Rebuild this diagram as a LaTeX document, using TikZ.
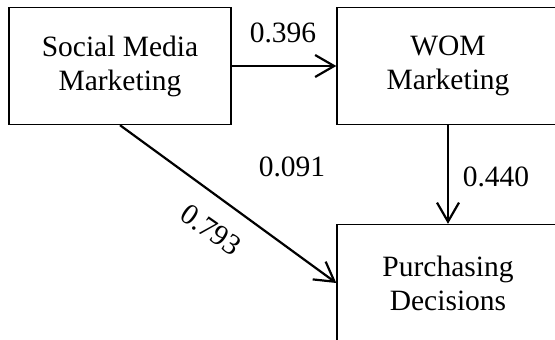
\documentclass[tikz,border=0pt]{standalone}
\usepackage{fontspec}
\setmainfont{Liberation Serif}
\usetikzlibrary{arrows.meta}
\begin{document}
\begin{tikzpicture}[x=1pt,y=-1pt,
  box/.style={draw,line width=1.4pt,minimum width=222pt,minimum height=117pt,inner sep=0pt,align=center,font=\fontsize{29.5}{34}\selectfont},
  lbl/.style={font=\fontsize{29.5}{34}\selectfont,inner sep=0pt},
  conn/.style={line width=2.2pt,-{Straight Barb[length=19pt,width=22pt,line width=2.2pt]}}]
\useasboundingbox (0,0) rectangle (555,340);
\node[box] (smm) at (120,66) {Social Media\\Marketing};
\node[box] (wom) at (448,66) {WOM\\Marketing};
\node[box] (pd) at (448,283) {Purchasing\\Decisions};
\draw[conn] (smm) -- (wom);
\draw[conn] (wom) -- (pd);
\draw[conn] (smm.south) -- (pd.west);
\node[lbl] (l1) at (283,33) {0.396};
\node[lbl] (l2) at (292,167) {0.091};
\node[lbl] (l3) at (496,177) {0.440};
\node[lbl,rotate=-35] (l4) at (211,230) {0.793};
\end{tikzpicture}
\end{document}
